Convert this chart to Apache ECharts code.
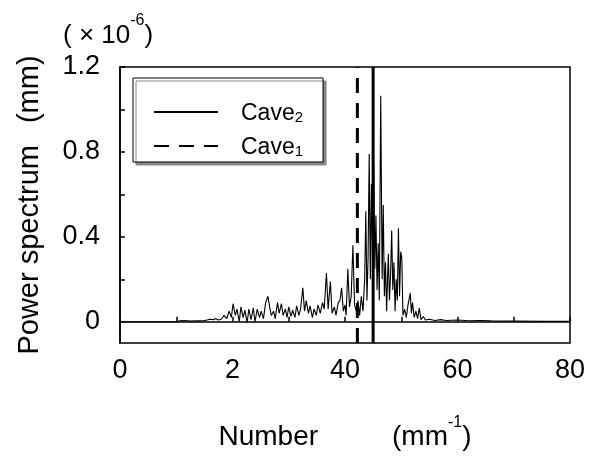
<!DOCTYPE html>
<html>
<head>
<meta charset="utf-8">
<script src="https://cdn.jsdelivr.net/npm/echarts@6/dist/echarts.min.js"></script>
<style>html,body{margin:0;padding:0;background:#fff}#c{width:592px;height:456px}</style>
</head>
<body>
<div id="c"></div>
<script>
// Wavenumber (mm^-1) and power spectrum (x 1e-6 mm)
var wavenumber = [0,10,10.5,11.5,12.5,13.5,14.5,15.5,16,16.5,17,17.5,18,18.5,19,19.4,19.8,20.1,20.5,20.8,21.2,21.5,21.9,22.2,22.6,22.9,23.3,23.7,24,24.4,24.8,25.1,25.5,25.9,26.3,26.6,26.9,27.3,27.6,28,28.3,28.7,29,29.4,29.7,30,30.4,30.7,31.1,31.4,31.8,32.1,32.5,32.8,33.1,33.5,33.8,34.2,34.5,34.9,35.2,35.6,36,36.3,36.7,37,37.4,37.7,38.1,38.4,38.8,39.1,39.4,39.7,40,40.2,40.5,40.8,41.1,41.4,41.7,42,42.3,42.6,42.9,43.2,43.5,43.7,43.9,44.1,44.3,44.5,44.7,44.9,45.1,45.3,45.5,45.7,45.9,46.1,46.35,46.6,46.8,47,47.2,47.4,47.7,47.9,48.1,48.3,48.5,48.7,48.9,49.1,49.3,49.5,49.7,49.9,50.1,50.3,50.6,50.9,51.2,51.6,51.8,52,52.3,52.6,52.9,53.2,53.5,53.9,54.3,55,56,57,58,60,62,64,66,70,75,80];
var power = [0,0,0.004,0.006,0.003,0.005,0.004,0.008,0.012,0.01,0.014,0.008,0.012,0.03,0.015,0.05,0.02,0.085,0.03,0.06,0.0,0.07,0.02,0.055,-0.005,0.06,0.01,0.065,0.0,0.06,0.02,0.05,0.015,0.09,0.12,0.07,0.03,0.05,0.015,0.09,0.04,0.085,0.03,0.06,0.02,0.07,0.025,0.055,0.02,0.075,0.03,0.06,0.16,0.05,0.1,0.04,0.075,0.02,0.06,0.03,0.08,0.04,0.09,0.06,0.23,0.06,0.19,0.04,0.07,0.03,0.09,0.1,0.16,0.05,0.08,0.03,0.25,0.07,0.12,0.36,0.08,0.05,0.1,0.03,0.12,0.05,0.2,0.52,0.1,0.3,0.79,0.2,0.65,0.3,0.75,0.25,0.5,0.15,0.37,0.1,1.065,0.2,0.55,0.12,0.28,0.05,0.32,0.1,0.22,0.43,0.15,0.28,0.05,0.2,0.1,0.44,0.12,0.33,0.3,0.03,0.06,0.02,0.08,0.135,0.04,0.09,0.02,0.05,0.015,0.065,0.01,0.025,0.008,0.012,0.006,0.01,0.006,0.008,0.005,0.006,0.004,0.003,0.002,0.002];
var cave2X = 45.0;
var cave1X = 42.2;
var xTickValues = [0,10,20,30,40,50,60,70,80];
var xLabelValues = [0,20,40,60,80];
var xTickLabels = {0:'0', 20:'2', 40:'40', 60:'60', 80:'80'};
var yTickValues = [0,0.2,0.4,0.6,0.8,1.0,1.2];
var yLabelValues = [0,0.4,0.8,1.2];
var yTickLabels = ['0','0.4','0.8','1.2'];

var FONT = 'Liberation Sans, Arial, Helvetica, sans-serif';
var chart = echarts.init(document.getElementById('c'), null, {renderer:'canvas'});
var yMin = -0.1, yMax = 1.2;
var spectrum = wavenumber.map(function(x,i){return [x, power[i]];});

chart.setOption({
  backgroundColor:'#fff',
  animation:false,
  textStyle:{fontFamily:FONT, color:'#000'},
  title:{
    left:58, top:8,
    text:'{t|( × 10}{sup|-6}{t|)}',
    textStyle:{fontWeight:'normal', rich:{
      t:{fontFamily:FONT, fontSize:26, fontWeight:'normal', color:'#000', lineHeight:36, verticalAlign:'bottom'},
      sup:{fontFamily:FONT, fontSize:16, fontWeight:'normal', color:'#000', lineHeight:36, verticalAlign:'top'}
    }}
  },
  grid:{left:120, right:22, top:67, bottom:101, show:true, borderColor:'#000', borderWidth:1.5, backgroundColor:'transparent'},
  legend:{
    left:133, top:78, orient:'vertical',
    data:['Cave2','Cave1'],
    itemWidth:64, itemHeight:14, itemGap:11,
    padding:[24,20,3,20],
    backgroundColor:'#fff', borderColor:'#000', borderWidth:1,
    shadowColor:'#888', shadowOffsetX:3, shadowOffsetY:3, shadowBlur:0,
    itemStyle:{opacity:0},
    formatter:function(n){return '{g|}{t|Cave}{s|'+n.slice(4)+'}';},
    textStyle:{rich:{
      g:{width:18},
      t:{fontFamily:FONT, fontSize:23, color:'#000', lineHeight:26, verticalAlign:'bottom'},
      s:{fontFamily:FONT, fontSize:15, color:'#000', lineHeight:22, verticalAlign:'bottom'}
    }}
  },
  xAxis:{
    type:'value', min:0, max:80,
    name:'{t|Number}{g|}{t|(mm}{sup|-1}{t|)}',
    nameLocation:'middle', nameGap:72,
    nameTextStyle:{rich:{
      t:{fontFamily:FONT, fontSize:28, color:'#000', lineHeight:36, verticalAlign:'bottom'},
      g:{width:74},
      sup:{fontFamily:FONT, fontSize:16, color:'#000', lineHeight:36, verticalAlign:'top'}
    }},
    axisLine:{show:true, lineStyle:{color:'#000', width:1.5}},
    axisTick:{show:true, inside:true, length:5, customValues:xTickValues, lineStyle:{color:'#000', width:1.5}},
    axisLabel:{fontFamily:FONT, fontSize:27, color:'#000', margin:14, customValues:xLabelValues,
      formatter:function(v){var k=Math.round(v); return xTickLabels.hasOwnProperty(k)?xTickLabels[k]:'';}},
    splitLine:{show:false}
  },
  yAxis:{
    type:'value', min:yMin, max:yMax,
    name:'{t|Power spectrum}{g|}{t|(mm)}',
    nameLocation:'middle', nameRotate:90, nameGap:76,
    nameTextStyle:{rich:{
      t:{fontFamily:FONT, fontSize:29, color:'#000'},
      g:{width:22}
    }},
    axisLine:{show:true, lineStyle:{color:'#000', width:1.5}},
    axisTick:{show:true, inside:true, length:5, customValues:yTickValues, lineStyle:{color:'#000', width:1.5}},
    axisLabel:{fontFamily:FONT, fontSize:27, color:'#000', margin:20, customValues:yLabelValues,
      formatter:function(v){var s=String(Math.round(v*10)/10); return yTickLabels.indexOf(s)>=0?s:'';}},
    splitLine:{show:false}
  },
  series:[
    {name:'spectrum', type:'line', data:spectrum, symbol:'none', showSymbol:false,
     lineStyle:{color:'#000', width:1.1}, z:2},
    {name:'Cave2', type:'line', data:[[cave2X,yMin],[cave2X,yMax]], symbol:'none',
     lineStyle:{color:'#000', width:3, type:'solid'}, itemStyle:{color:'#000'}, z:3},
    {name:'Cave1', type:'line', data:[[cave1X,yMin],[cave1X,yMax]], symbol:'none',
     lineStyle:{color:'#000', width:3, type:[15,10]}, itemStyle:{color:'#000'}, z:3}
  ]
});
</script>
</body>
</html>
